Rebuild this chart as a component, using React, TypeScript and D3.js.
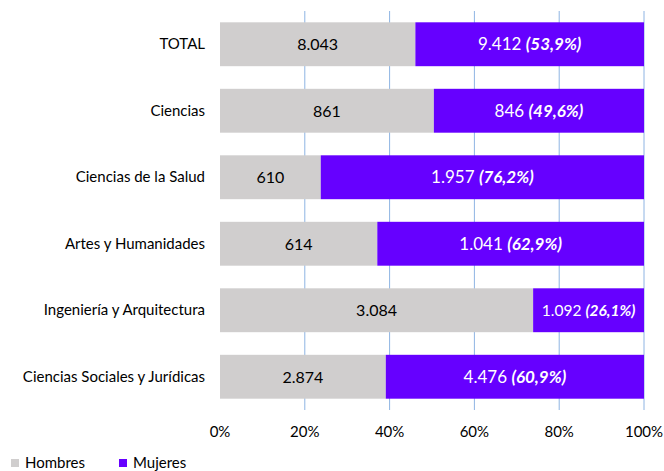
import React from "react";
import * as d3 from "d3";

const categories = [
  "TOTAL",
  "Ciencias",
  "Ciencias de la Salud",
  "Artes y Humanidades",
  "Ingeniería y Arquitectura",
  "Ciencias Sociales y Jurídicas",
];
const hombres = [8043, 861, 610, 614, 3084, 2874];
const mujeres = [9412, 846, 1957, 1041, 1092, 4476];
const ticks = [0, 0.2, 0.4, 0.6, 0.8, 1];
const seriesNames = ["Hombres", "Mujeres"];
const colors = ["#D0CECE", "#6600FF"];

const W = 664;
const H = 471;
const margin = { left: 220, right: 20, top: 11, bottom: 61 };
const FONT = "Lato, 'Open Sans', sans-serif";

const fmt = (v: number) => d3.format(",")(v).replace(/,/g, ".");
const pct = (v: number) => d3.format(".1f")(v * 100).replace(".", ",") + "%";

export default function App() {
  const x = d3.scaleLinear().domain([0, 1]).range([margin.left, W - margin.right]);
  const y = d3
    .scaleBand<string>()
    .domain(categories)
    .range([margin.top, H - margin.bottom])
    .paddingInner(0.34)
    .paddingOuter(0.17);

  return (
    <svg
      width={W}
      height={H}
      style={{ position: "absolute", left: 0, top: 0, background: "#fff" }}
      fontFamily={FONT}
    >
      {ticks.slice(1).map((t) => (
        <line
          key={t}
          x1={x(t)}
          x2={x(t)}
          y1={margin.top}
          y2={H - margin.bottom}
          stroke="#8EB4E3"
          strokeWidth={1}
        />
      ))}
      {categories.map((c, i) => {
        const total = hombres[i] + mujeres[i];
        const ph = hombres[i] / total;
        const y0 = y(c)!;
        const bh = y.bandwidth();
        const cy = y0 + bh / 2;
        const xm = (x(ph) + x(1)) / 2;
        const segW = x(1) - x(ph);
        const fs = segW < 120 ? 15.5 : 17;
        return (
          <g key={c}>
            <rect x={x(0)} y={y0} width={x(ph) - x(0)} height={bh} fill={colors[0]} />
            <rect x={x(ph)} y={y0} width={segW} height={bh} fill={colors[1]} />
            <text x={margin.left - 15} y={cy + 5} textAnchor="end" fontSize={15} fill="#000">
              {c}
            </text>
            <text x={(x(0) + x(ph)) / 2} y={cy + 6} textAnchor="middle" fontSize={16} fill="#000">
              {fmt(hombres[i])}
            </text>
            <text x={xm} y={cy + 6} textAnchor="middle" fontSize={fs} fill="#fff">
              {fmt(mujeres[i]) + " "}
              <tspan fontWeight="bold" fontStyle="italic">
                ({pct(mujeres[i] / total)})
              </tspan>
            </text>
          </g>
        );
      })}
      {ticks.map((t) => (
        <text
          key={t}
          x={x(t)}
          y={437}
          textAnchor="middle"
          fontSize={15}
          fill="#000"
        >
          {Math.round(t * 100) + "%"}
        </text>
      ))}
      {seriesNames.map((s, i) => (
        <g key={s} transform={`translate(${11 + i * 108},459)`}>
          <rect x={0} y={0} width={8} height={8} fill={colors[i]} />
          <text x={14} y={9} fontSize={15} fill="#000">
            {s}
          </text>
        </g>
      ))}
    </svg>
  );
}
